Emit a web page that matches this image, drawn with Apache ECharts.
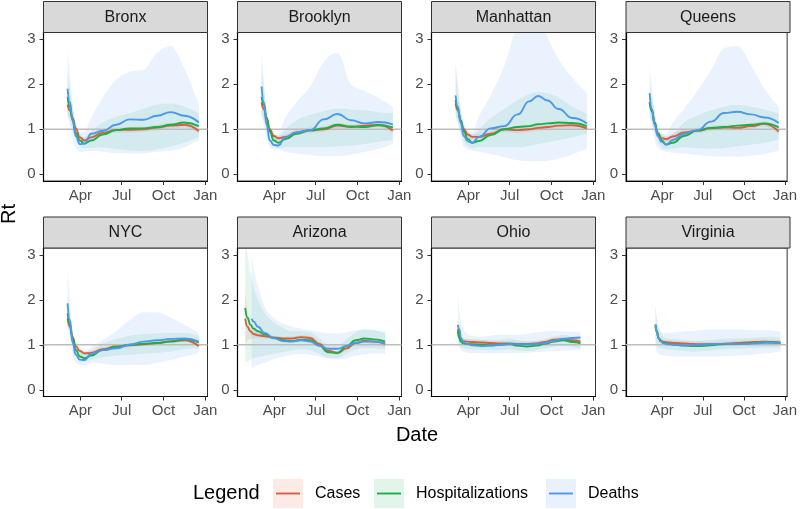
<!DOCTYPE html>
<html><head><meta charset="utf-8">
<script src="https://cdn.jsdelivr.net/npm/echarts@6/dist/echarts.min.js"></script>
<style>html,body{margin:0;padding:0;background:#fff}#chart{width:800px;height:509px}</style>
</head><body><div id="chart"></div>
<script>
// x values are days of 2020 (Jan 1 = 0); Jan 1 2021 = 366
const panelNames = ['Bronx', 'Brooklyn', 'Manhattan', 'Queens', 'NYC', 'Arizona', 'Ohio', 'Virginia'];
const seriesNames = ['Cases', 'Hospitalizations', 'Deaths'];
const xTickDays = [91, 182, 274, 366];
const xTickLabels = ['Apr', 'Jul', 'Oct', 'Jan'];
const yTicks = [0, 1, 2, 3];

const nycDays = [63, 68, 74, 81, 90, 100, 115, 140, 170, 200, 230, 260, 290, 320, 352];

const bronxCases = [1.55, 1.42, 1.25, 1.02, 0.82, 0.75, 0.82, 0.92, 0.98, 0.99, 1.00, 1.04, 1.08, 1.10, 0.96];
const bronxCasesLo = [1.40, 1.30, 1.15, 0.95, 0.76, 0.70, 0.76, 0.86, 0.92, 0.93, 0.94, 0.98, 1.02, 1.04, 0.90];
const bronxCasesHi = [1.70, 1.55, 1.35, 1.10, 0.88, 0.81, 0.88, 0.98, 1.04, 1.05, 1.06, 1.10, 1.14, 1.16, 1.02];
const bronxHosp = [1.72, 1.50, 1.20, 0.92, 0.75, 0.68, 0.75, 0.88, 0.98, 1.02, 1.02, 1.05, 1.10, 1.15, 1.07];
const bronxHospLo = [1.30, 1.20, 1.00, 0.78, 0.63, 0.58, 0.59, 0.60, 0.56, 0.53, 0.52, 0.55, 0.62, 0.70, 0.83];
const bronxHospHi = [2.30, 1.90, 1.50, 1.10, 0.90, 0.83, 0.95, 1.15, 1.28, 1.36, 1.45, 1.55, 1.57, 1.50, 1.35];
const bronxDeaths = [1.90, 1.60, 1.20, 0.85, 0.67, 0.68, 0.90, 0.96, 1.10, 1.22, 1.21, 1.30, 1.38, 1.30, 1.15];
const bronxDeathsLo = [1.30, 1.10, 0.80, 0.60, 0.50, 0.50, 0.52, 0.50, 0.47, 0.46, 0.46, 0.50, 0.52, 0.60, 0.76];
const bronxDeathsHi = [2.80, 2.20, 1.60, 1.15, 0.92, 0.95, 1.25, 1.70, 2.10, 2.28, 2.32, 2.70, 2.85, 2.35, 1.55];

const brooklynCases = [1.60, 1.45, 1.25, 1.00, 0.85, 0.80, 0.83, 0.93, 0.98, 1.00, 1.08, 1.05, 1.08, 1.10, 0.97];
const brooklynCasesLo = [1.45, 1.33, 1.15, 0.93, 0.79, 0.74, 0.77, 0.87, 0.92, 0.94, 1.02, 0.99, 1.02, 1.04, 0.91];
const brooklynCasesHi = [1.75, 1.57, 1.35, 1.07, 0.91, 0.86, 0.89, 0.99, 1.04, 1.06, 1.14, 1.11, 1.14, 1.16, 1.03];
const brooklynHosp = [1.72, 1.55, 1.25, 0.95, 0.75, 0.70, 0.78, 0.90, 0.97, 1.02, 1.10, 1.06, 1.05, 1.09, 1.04];
const brooklynHospLo = [1.30, 1.20, 1.00, 0.78, 0.62, 0.58, 0.60, 0.60, 0.60, 0.60, 0.62, 0.64, 0.67, 0.72, 0.76];
const brooklynHospHi = [2.30, 1.90, 1.45, 1.10, 0.90, 0.85, 1.00, 1.20, 1.32, 1.40, 1.46, 1.44, 1.42, 1.38, 1.35];
const brooklynDeaths = [1.95, 1.60, 1.10, 0.75, 0.65, 0.64, 0.82, 0.93, 0.98, 1.22, 1.34, 1.20, 1.13, 1.16, 1.11];
const brooklynDeathsLo = [1.30, 1.10, 0.80, 0.60, 0.55, 0.55, 0.50, 0.46, 0.43, 0.40, 0.40, 0.44, 0.50, 0.56, 0.68];
const brooklynDeathsHi = [2.75, 2.10, 1.40, 1.00, 0.85, 0.90, 1.25, 1.60, 1.95, 2.50, 2.70, 2.00, 1.85, 1.70, 1.50];

const manhattanDays = [63, 68, 74, 81, 90, 100, 115, 140, 170, 200, 225, 245, 265, 290, 320, 352];
const manhattanCases = [1.57, 1.42, 1.20, 1.00, 0.88, 0.83, 0.83, 0.90, 1.00, 0.98, 1.00, 1.03, 1.05, 1.08, 1.09, 1.02];
const manhattanCasesLo = [1.42, 1.30, 1.10, 0.93, 0.82, 0.77, 0.77, 0.84, 0.94, 0.92, 0.94, 0.97, 0.99, 1.02, 1.03, 0.96];
const manhattanCasesHi = [1.72, 1.54, 1.30, 1.07, 0.94, 0.89, 0.89, 0.96, 1.06, 1.04, 1.06, 1.09, 1.11, 1.14, 1.15, 1.08];
const manhattanHosp = [1.65, 1.45, 1.20, 0.95, 0.78, 0.70, 0.74, 0.87, 1.00, 1.05, 1.07, 1.11, 1.13, 1.15, 1.14, 1.07];
const manhattanHospLo = [1.30, 1.15, 0.95, 0.75, 0.62, 0.58, 0.60, 0.60, 0.60, 0.60, 0.63, 0.67, 0.71, 0.76, 0.82, 0.90];
const manhattanHospHi = [2.40, 1.85, 1.45, 1.15, 0.95, 0.88, 1.00, 1.25, 1.45, 1.65, 1.78, 1.83, 1.80, 1.70, 1.50, 1.35];
const manhattanDeaths = [1.75, 1.50, 1.15, 0.85, 0.73, 0.70, 0.83, 1.02, 1.07, 1.33, 1.62, 1.74, 1.64, 1.45, 1.25, 1.13];
const manhattanDeathsLo = [1.30, 1.15, 0.85, 0.62, 0.55, 0.52, 0.50, 0.45, 0.38, 0.31, 0.29, 0.29, 0.30, 0.35, 0.44, 0.57];
const manhattanDeathsHi = [2.50, 2.00, 1.50, 1.10, 0.95, 0.95, 1.30, 1.75, 2.40, 3.30, 3.50, 3.50, 3.05, 2.55, 2.15, 1.80];

const queensCases = [1.60, 1.42, 1.15, 0.92, 0.80, 0.78, 0.84, 0.93, 0.97, 1.02, 1.04, 1.03, 1.07, 1.12, 0.95];
const queensCasesLo = [1.45, 1.30, 1.07, 0.86, 0.74, 0.72, 0.78, 0.87, 0.91, 0.96, 0.98, 0.97, 1.01, 1.06, 0.89];
const queensCasesHi = [1.75, 1.54, 1.23, 0.98, 0.86, 0.84, 0.90, 0.99, 1.03, 1.08, 1.10, 1.09, 1.13, 1.18, 1.01];
const queensHosp = [1.61, 1.40, 1.15, 0.90, 0.75, 0.66, 0.70, 0.85, 0.97, 1.03, 1.05, 1.08, 1.10, 1.13, 1.04];
const queensHospLo = [1.30, 1.15, 0.95, 0.75, 0.60, 0.55, 0.57, 0.60, 0.58, 0.57, 0.58, 0.62, 0.66, 0.70, 0.76];
const queensHospHi = [2.00, 1.70, 1.38, 1.08, 0.92, 0.82, 0.90, 1.15, 1.30, 1.42, 1.50, 1.54, 1.50, 1.44, 1.35];
const queensDeaths = [1.80, 1.45, 1.10, 0.85, 0.72, 0.66, 0.76, 0.90, 0.98, 1.17, 1.36, 1.39, 1.33, 1.26, 1.14];
const queensDeathsLo = [1.35, 1.10, 0.80, 0.60, 0.52, 0.50, 0.48, 0.46, 0.43, 0.40, 0.39, 0.39, 0.41, 0.45, 0.53];
const queensDeathsHi = [2.40, 1.90, 1.40, 1.05, 0.90, 0.90, 1.15, 1.45, 1.85, 2.30, 2.80, 2.85, 2.42, 1.90, 1.50];

const nycCases = [1.58, 1.40, 1.17, 0.97, 0.86, 0.81, 0.82, 0.90, 0.96, 0.99, 1.01, 1.04, 1.08, 1.10, 0.97];
const nycCasesLo = [1.48, 1.32, 1.11, 0.92, 0.81, 0.76, 0.77, 0.86, 0.92, 0.95, 0.97, 1.00, 1.04, 1.06, 0.93];
const nycCasesHi = [1.68, 1.48, 1.23, 1.02, 0.91, 0.86, 0.87, 0.94, 1.00, 1.03, 1.05, 1.08, 1.12, 1.14, 1.01];
const nycHosp = [1.70, 1.45, 1.15, 0.88, 0.74, 0.70, 0.76, 0.88, 0.95, 1.00, 1.02, 1.04, 1.07, 1.12, 1.05];
const nycHospLo = [1.40, 1.25, 0.98, 0.76, 0.64, 0.62, 0.66, 0.72, 0.76, 0.78, 0.80, 0.82, 0.85, 0.90, 0.92];
const nycHospHi = [2.10, 1.70, 1.33, 1.00, 0.85, 0.80, 0.88, 1.02, 1.13, 1.20, 1.24, 1.25, 1.26, 1.26, 1.20];
const nycDeaths = [1.92, 1.55, 1.05, 0.78, 0.67, 0.66, 0.80, 0.88, 0.92, 1.00, 1.07, 1.10, 1.13, 1.14, 1.07];
const nycDeathsLo = [1.40, 1.15, 0.80, 0.60, 0.55, 0.55, 0.60, 0.58, 0.55, 0.55, 0.55, 0.60, 0.66, 0.74, 0.81];
const nycDeathsHi = [2.75, 2.00, 1.30, 0.95, 0.80, 0.80, 0.95, 1.10, 1.30, 1.55, 1.72, 1.72, 1.60, 1.45, 1.25];

const azDays = [27, 32, 38, 45, 55, 70, 90, 110, 130, 150, 170, 190, 210, 230, 250, 270, 290, 310, 335];
const azCases = [1.58, 1.40, 1.30, 1.24, 1.21, 1.19, 1.16, 1.14, 1.14, 1.17, 1.15, 1.02, 0.86, 0.82, 0.92, 1.04, 1.09, 1.07, 1.02];
const azCasesLo = [1.00, 1.10, 1.12, 1.14, 1.15, 1.14, 1.12, 1.10, 1.10, 1.13, 1.11, 0.98, 0.82, 0.78, 0.88, 1.00, 1.04, 1.01, 0.95];
const azCasesHi = [2.20, 1.75, 1.50, 1.36, 1.28, 1.24, 1.20, 1.18, 1.18, 1.21, 1.19, 1.06, 0.90, 0.86, 0.96, 1.08, 1.14, 1.13, 1.09];
const azHosp = [1.82, 1.60, 1.45, 1.36, 1.30, 1.23, 1.15, 1.10, 1.08, 1.11, 1.10, 0.98, 0.83, 0.82, 0.97, 1.10, 1.14, 1.12, 1.07];
const azHospLo = [0.60, 0.62, 0.66, 0.70, 0.73, 0.76, 0.80, 0.84, 0.87, 0.90, 0.88, 0.80, 0.70, 0.70, 0.80, 0.90, 0.93, 0.92, 0.90];
const azHospHi = [3.40, 3.00, 2.60, 2.30, 2.00, 1.70, 1.50, 1.38, 1.30, 1.30, 1.28, 1.15, 1.00, 0.98, 1.12, 1.28, 1.35, 1.33, 1.25];
const azDeathDays = [41, 45, 55, 70, 90, 110, 130, 150, 170, 190, 210, 230, 250, 270, 290, 310, 335];
const azDeaths = [1.58, 1.52, 1.40, 1.26, 1.15, 1.08, 1.07, 1.10, 1.07, 0.98, 0.91, 0.91, 0.97, 1.04, 1.07, 1.07, 1.03];
const azDeathsLo = [0.45, 0.50, 0.55, 0.60, 0.68, 0.74, 0.78, 0.80, 0.78, 0.74, 0.70, 0.68, 0.70, 0.76, 0.79, 0.80, 0.80];
const azDeathsHi = [3.00, 2.70, 2.30, 1.85, 1.60, 1.47, 1.40, 1.36, 1.32, 1.28, 1.25, 1.25, 1.28, 1.32, 1.33, 1.32, 1.30];

const ohioDays = [68, 71, 75, 80, 88, 100, 120, 140, 160, 180, 200, 220, 240, 260, 280, 300, 320, 338];
const ohioCases = [1.35, 1.22, 1.12, 1.08, 1.07, 1.06, 1.05, 1.04, 1.03, 1.03, 1.02, 1.02, 1.03, 1.06, 1.11, 1.13, 1.10, 1.07];
const ohioCasesLo = [1.25, 1.14, 1.06, 1.03, 1.02, 1.01, 1.00, 0.99, 0.98, 0.98, 0.97, 0.97, 0.98, 1.01, 1.06, 1.08, 1.05, 1.02];
const ohioCasesHi = [1.45, 1.30, 1.18, 1.13, 1.12, 1.11, 1.10, 1.09, 1.08, 1.08, 1.07, 1.07, 1.08, 1.11, 1.16, 1.18, 1.15, 1.12];
const ohioHosp = [1.30, 1.15, 1.06, 1.03, 1.02, 1.01, 1.00, 0.99, 1.00, 1.02, 0.98, 0.96, 0.98, 1.02, 1.07, 1.10, 1.06, 1.03];
const ohioHospLo = [1.10, 1.00, 0.94, 0.92, 0.91, 0.90, 0.89, 0.88, 0.88, 0.90, 0.87, 0.86, 0.88, 0.92, 0.96, 0.98, 0.95, 0.92];
const ohioHospHi = [1.50, 1.30, 1.18, 1.14, 1.13, 1.12, 1.11, 1.10, 1.11, 1.14, 1.10, 1.07, 1.09, 1.13, 1.18, 1.22, 1.18, 1.15];
const ohioDeaths = [1.44, 1.35, 1.15, 1.06, 1.02, 0.99, 0.97, 0.98, 1.00, 1.01, 1.01, 1.01, 1.01, 1.04, 1.09, 1.13, 1.15, 1.16];
const ohioDeathsLo = [1.00, 0.95, 0.88, 0.85, 0.83, 0.82, 0.81, 0.81, 0.81, 0.81, 0.81, 0.82, 0.84, 0.85, 0.86, 0.87, 0.88, 0.88];
const ohioDeathsHi = [2.10, 1.80, 1.50, 1.35, 1.25, 1.20, 1.18, 1.20, 1.22, 1.22, 1.22, 1.24, 1.27, 1.30, 1.31, 1.30, 1.29, 1.29];

const vaDays = [76, 79, 83, 88, 95, 105, 120, 140, 160, 180, 200, 220, 240, 260, 280, 300, 320, 340, 356];
const vaCases = [1.40, 1.28, 1.15, 1.09, 1.06, 1.05, 1.04, 1.03, 1.02, 1.01, 1.01, 1.02, 1.03, 1.04, 1.05, 1.06, 1.07, 1.06, 1.05];
const vaCasesLo = [1.32, 1.21, 1.10, 1.04, 1.01, 1.00, 0.99, 0.98, 0.97, 0.96, 0.96, 0.97, 0.98, 0.99, 1.00, 1.01, 1.02, 1.01, 1.00];
const vaCasesHi = [1.48, 1.35, 1.20, 1.14, 1.11, 1.10, 1.09, 1.08, 1.07, 1.06, 1.06, 1.07, 1.08, 1.09, 1.10, 1.11, 1.12, 1.11, 1.10];
const vaHosp = [1.45, 1.30, 1.15, 1.08, 1.04, 1.02, 1.00, 0.98, 0.97, 0.97, 0.99, 1.01, 1.02, 1.02, 1.03, 1.04, 1.05, 1.05, 1.04];
const vaHospLo = [1.10, 1.00, 0.95, 0.93, 0.91, 0.90, 0.88, 0.86, 0.85, 0.86, 0.88, 0.90, 0.91, 0.91, 0.92, 0.93, 0.94, 0.94, 0.93];
const vaHospHi = [1.80, 1.55, 1.38, 1.25, 1.17, 1.14, 1.12, 1.10, 1.09, 1.09, 1.11, 1.13, 1.14, 1.14, 1.15, 1.16, 1.17, 1.17, 1.16];
const vaDeaths = [1.44, 1.30, 1.15, 1.07, 1.03, 1.01, 1.00, 0.99, 0.99, 1.00, 1.01, 1.02, 1.02, 1.02, 1.02, 1.03, 1.05, 1.05, 1.04];
const vaDeathsLo = [0.95, 0.85, 0.80, 0.77, 0.76, 0.75, 0.74, 0.74, 0.74, 0.74, 0.74, 0.74, 0.75, 0.76, 0.77, 0.79, 0.81, 0.83, 0.85];
const vaDeathsHi = [1.90, 1.60, 1.40, 1.30, 1.26, 1.26, 1.28, 1.30, 1.31, 1.33, 1.34, 1.34, 1.34, 1.34, 1.33, 1.32, 1.32, 1.31, 1.29];

// ---------- assembly ----------
const panels = [
  { days: nycDays, dDays: nycDays, v: [[bronxCases, bronxCasesLo, bronxCasesHi], [bronxHosp, bronxHospLo, bronxHospHi], [bronxDeaths, bronxDeathsLo, bronxDeathsHi]] },
  { days: nycDays, dDays: nycDays, v: [[brooklynCases, brooklynCasesLo, brooklynCasesHi], [brooklynHosp, brooklynHospLo, brooklynHospHi], [brooklynDeaths, brooklynDeathsLo, brooklynDeathsHi]] },
  { days: manhattanDays, dDays: manhattanDays, v: [[manhattanCases, manhattanCasesLo, manhattanCasesHi], [manhattanHosp, manhattanHospLo, manhattanHospHi], [manhattanDeaths, manhattanDeathsLo, manhattanDeathsHi]] },
  { days: nycDays, dDays: nycDays, v: [[queensCases, queensCasesLo, queensCasesHi], [queensHosp, queensHospLo, queensHospHi], [queensDeaths, queensDeathsLo, queensDeathsHi]] },
  { days: nycDays, dDays: nycDays, v: [[nycCases, nycCasesLo, nycCasesHi], [nycHosp, nycHospLo, nycHospHi], [nycDeaths, nycDeathsLo, nycDeathsHi]] },
  { days: azDays, dDays: azDeathDays, v: [[azCases, azCasesLo, azCasesHi], [azHosp, azHospLo, azHospHi], [azDeaths, azDeathsLo, azDeathsHi]] },
  { days: ohioDays, dDays: ohioDays, v: [[ohioCases, ohioCasesLo, ohioCasesHi], [ohioHosp, ohioHospLo, ohioHospHi], [ohioDeaths, ohioDeathsLo, ohioDeathsHi]] },
  { days: vaDays, dDays: vaDays, v: [[vaCases, vaCasesLo, vaCasesHi], [vaHosp, vaHospLo, vaHospHi], [vaDeaths, vaDeathsLo, vaDeathsHi]] }
];

const FONT = '"Liberation Sans", Arial, Helvetica, sans-serif';
const colLeft = [43.5, 237.5, 431.5, 626];
const rowTop = [32.5, 248];
const panelW = 164, panelH = 148.5, stripH = 31;
const xMin = 10, xMax = 371, yMin = -0.15, yMax = 3.15;
const lineColors = ['#D6603E', '#1DAE44', '#4B98EC'];
const bandColors = ['rgba(228,92,70,0.12)', 'rgba(40,185,110,0.12)', 'rgba(80,150,245,0.12)'];
const keyFills = ['#FCEAE7', '#E3F5EA', '#E9F1FD'];

const zip = (xs, ys) => xs.map((x, i) => [x, ys[i]]);

// smooth (monotone cubic) path segments through pixel points, starting at pts[0]
function smoothSegs(pts) {
  const n = pts.length;
  if (n < 2) return '';
  const h = [], s = [];
  for (let i = 0; i < n - 1; i++) {
    h.push(pts[i + 1][0] - pts[i][0]);
    s.push((pts[i + 1][1] - pts[i][1]) / (h[i] || 1e-6));
  }
  const m = new Array(n);
  for (let i = 1; i < n - 1; i++) {
    const p = (s[i - 1] * h[i] + s[i] * h[i - 1]) / (h[i - 1] + h[i]);
    m[i] = (Math.sign(s[i - 1]) + Math.sign(s[i])) * Math.min(Math.abs(s[i - 1]), Math.abs(s[i]), 0.5 * Math.abs(p)) || 0;
  }
  m[0] = n > 2 ? (3 * s[0] - m[1]) / 2 : s[0];
  m[n - 1] = n > 2 ? (3 * s[n - 2] - m[n - 2]) / 2 : s[n - 2];
  let d = '';
  for (let i = 0; i < n - 1; i++) {
    const dx = h[i] / 3;
    d += ' C' + (pts[i][0] + dx) + ',' + (pts[i][1] + m[i] * dx) + ' ' +
      (pts[i + 1][0] - dx) + ',' + (pts[i + 1][1] - m[i + 1] * dx) + ' ' +
      pts[i + 1][0] + ',' + pts[i + 1][1];
  }
  return d;
}

function bandRenderer(days, lo, hi, color) {
  return function (params, api) {
    if (params.dataIndex !== 0) return null;
    const top = days.map((d, i) => api.coord([d, hi[i]]));
    const bot = days.map((d, i) => api.coord([d, lo[i]])).reverse();
    const path = 'M' + top[0][0] + ',' + top[0][1] + smoothSegs(top) +
      ' L' + bot[0][0] + ',' + bot[0][1] + smoothSegs(bot) + ' Z';
    return { type: 'path', shape: { pathData: path }, style: { fill: color, stroke: null } };
  };
}

const grid = [], xAxis = [], yAxis = [], series = [], graphic = [];

panels.forEach((p, k) => {
  const r = Math.floor(k / 4), c = k % 4;
  const left = colLeft[c], top = rowTop[r];
  grid.push({ left: left, top: top, width: panelW, height: panelH, show: true,
    borderColor: '#333', borderWidth: 1, backgroundColor: 'transparent' });
  xAxis.push({ gridIndex: k, type: 'value', min: xMin, max: xMax,
    axisLine: { show: true, onZero: false, lineStyle: { color: '#000', width: 1.2 } },
    axisTick: { show: true, length: 4, customValues: xTickDays, lineStyle: { color: '#333', width: 1 } },
    axisLabel: { show: true, customValues: xTickDays, margin: 7, color: '#4D4D4D', fontSize: 15, fontFamily: FONT,
      formatter: v => xTickLabels[xTickDays.indexOf(v)] },
    splitLine: { show: false } });
  yAxis.push({ gridIndex: k, type: 'value', min: yMin, max: yMax,
    axisLine: { show: true, onZero: false, lineStyle: { color: '#000', width: 1.2 } },
    axisTick: { show: true, length: 4, customValues: yTicks, lineStyle: { color: '#333', width: 1 } },
    axisLabel: { show: true, customValues: yTicks, margin: 8, color: '#4D4D4D', fontSize: 15, fontFamily: FONT,
      formatter: v => String(v) },
    splitLine: { show: false } });

  // confidence bands
  for (let s = 0; s < 3; s++) {
    const days = s === 2 ? p.dDays : p.days;
    const [mid, lo, hi] = p.v[s];
    series.push({ type: 'custom', name: seriesNames[s] + ' band', xAxisIndex: k, yAxisIndex: k,
      data: days.map((d, i) => [d, lo[i], hi[i]]), encode: { x: 0, y: [1, 2] },
      renderItem: bandRenderer(days, lo, hi, bandColors[s]), clip: true, silent: true, z: 1 });
  }
  // reference line at Rt = 1
  series.push({ type: 'line', xAxisIndex: k, yAxisIndex: k, data: [[xMin, 1], [xMax, 1]],
    symbol: 'none', silent: true, z: 2, lineStyle: { color: '#BDBDBD', width: 1.4 } });
  // estimate lines
  for (let s = 0; s < 3; s++) {
    const days = s === 2 ? p.dDays : p.days;
    series.push({ type: 'line', name: seriesNames[s], xAxisIndex: k, yAxisIndex: k,
      data: zip(days, p.v[s][0]), symbol: 'none', smooth: 0.5, smoothMonotone: 'x', silent: true, z: 3 + s,
      lineStyle: { color: lineColors[s], width: 1.9 } });
  }

  // facet strip
  graphic.push({ type: 'rect', z: 10, shape: { x: left, y: top - stripH, width: panelW, height: stripH },
    style: { fill: '#D9D9D9', stroke: '#333', lineWidth: 1 } });
  graphic.push({ type: 'text', z: 11, x: left + panelW / 2, y: top - stripH / 2 + 0.5,
    style: { text: panelNames[k], fill: '#1A1A1A', fontSize: 16, fontFamily: FONT, align: 'center', verticalAlign: 'middle' } });
});

// axis titles
graphic.push({ type: 'text', x: 9, y: 214, rotation: Math.PI / 2,
  style: { text: 'Rt', fill: '#000', fontSize: 20, fontFamily: FONT, align: 'center', verticalAlign: 'middle' } });
graphic.push({ type: 'text', x: 417, y: 435,
  style: { text: 'Date', fill: '#000', fontSize: 20, fontFamily: FONT, align: 'center', verticalAlign: 'middle' } });

// legend
const legY = 493.5;
const keyX = [273, 374, 546];
graphic.push({ type: 'text', x: 193, y: legY,
  style: { text: 'Legend', fill: '#000', fontSize: 20, fontFamily: FONT, align: 'left', verticalAlign: 'middle' } });
for (let s = 0; s < 3; s++) {
  graphic.push({ type: 'rect', shape: { x: keyX[s], y: 479, width: 30, height: 29 }, style: { fill: keyFills[s] } });
  graphic.push({ type: 'line', shape: { x1: keyX[s] + 3, y1: legY, x2: keyX[s] + 27, y2: legY },
    style: { stroke: lineColors[s], lineWidth: 1.9 } });
  graphic.push({ type: 'text', x: keyX[s] + 42, y: legY,
    style: { text: seriesNames[s], fill: '#000', fontSize: 16, fontFamily: FONT, align: 'left', verticalAlign: 'middle' } });
}

const chart = echarts.init(document.getElementById('chart'), null, { renderer: 'canvas' });
chart.setOption({
  animation: false,
  backgroundColor: '#fff',
  grid: grid, xAxis: xAxis, yAxis: yAxis, series: series, graphic: graphic
});
</script>
</body></html>
